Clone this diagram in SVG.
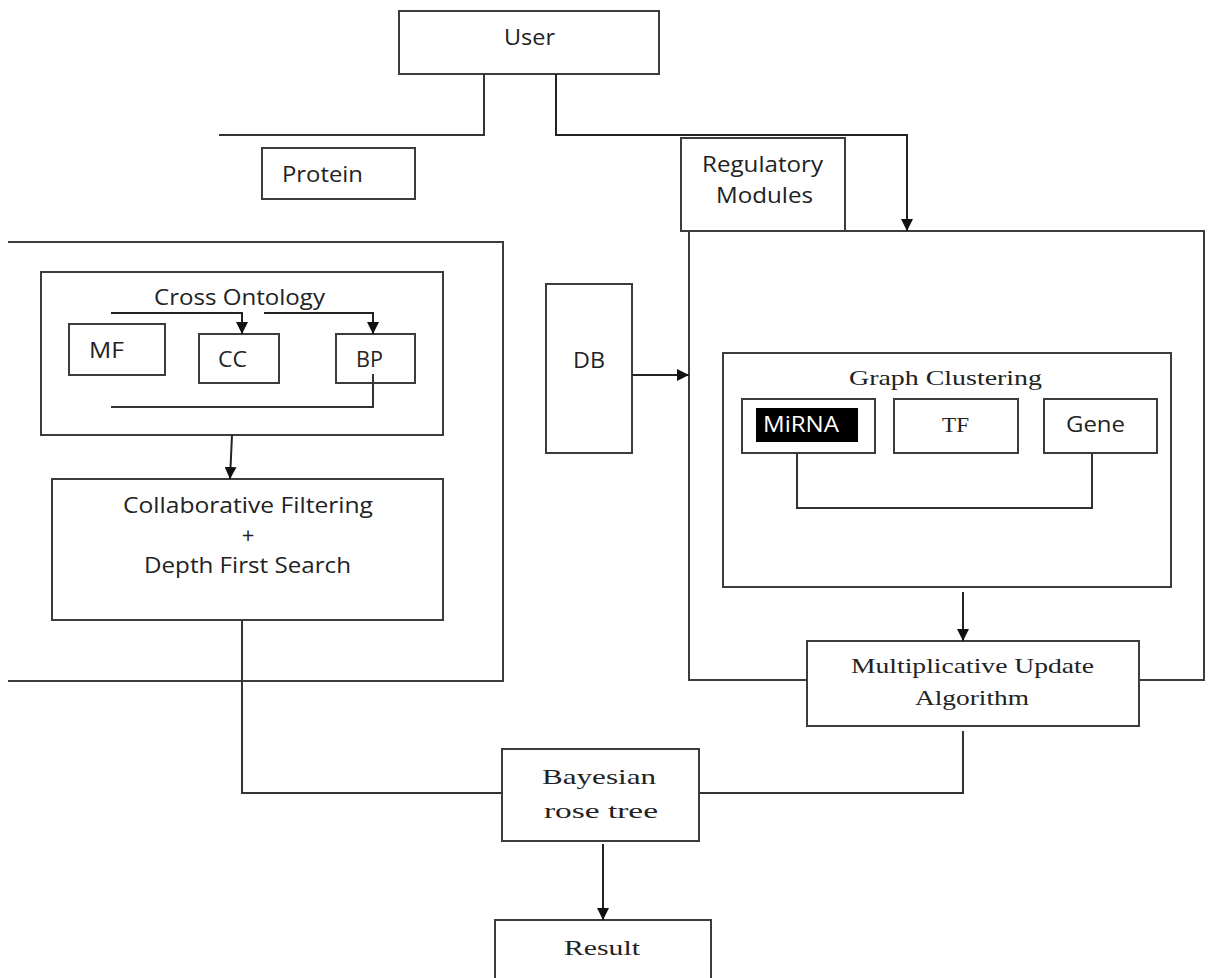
<svg xmlns="http://www.w3.org/2000/svg" width="1211" height="978" viewBox="0 0 1211 978">
<defs>
<style>
.box{fill:#fff;stroke:#3c3c3c;stroke-width:2}
.cont{fill:none;stroke:#3c3c3c;stroke-width:2}
.ln{fill:none;stroke:#333;stroke-width:2}
.arr{fill:none;stroke:#222;stroke-width:2;marker-end:url(#ah)}
.s{font-family:"Open Sans","Liberation Sans",sans-serif;font-size:22px;fill:#222}
.r{font-family:"Liberation Serif","Times New Roman",serif;font-size:22px;fill:#222}
</style>
<marker id="ah" markerUnits="userSpaceOnUse" markerWidth="12" markerHeight="12" refX="12" refY="6" orient="auto">
<path d="M0,0 L12,6 L0,12 z" fill="#111"/>
</marker>
</defs>
<rect width="1211" height="978" fill="#fff"/>

<g id="containers">
<path class="cont" d="M8,242 H503 V681 H8"/>
<rect id="regulatory-container" class="cont" x="689" y="231" width="515" height="449"/>
</g>

<g id="user"><rect class="box" x="399" y="11" width="260" height="63"/><text class="s" x="504" y="45" textLength="51" lengthAdjust="spacingAndGlyphs">User</text></g>
<g id="protein"><rect class="box" x="262" y="148" width="153" height="51"/><text class="s" x="282" y="182" textLength="81" lengthAdjust="spacingAndGlyphs">Protein</text></g>
<g id="regulatory-modules"><rect class="box" x="681" y="138" width="164" height="93"/><text class="s" x="702" y="172" textLength="121" lengthAdjust="spacingAndGlyphs">Regulatory</text><text class="s" x="716" y="203" textLength="97" lengthAdjust="spacingAndGlyphs">Modules</text></g>

<g id="cross-ontology"><rect class="box" x="41" y="272" width="402" height="163"/><text class="s" x="154" y="305" textLength="171" lengthAdjust="spacingAndGlyphs">Cross Ontology</text></g>
<g id="mf"><rect class="box" x="69" y="324" width="96" height="51"/><text class="s" x="89" y="358" textLength="35" lengthAdjust="spacingAndGlyphs">MF</text></g>
<g id="cc"><rect class="box" x="199" y="334" width="80" height="49"/><text class="s" x="218" y="367" textLength="29" lengthAdjust="spacingAndGlyphs">CC</text></g>
<g id="bp"><rect class="box" x="336" y="334" width="79" height="49"/><text class="s" x="356" y="367" textLength="27" lengthAdjust="spacingAndGlyphs">BP</text></g>

<g id="collaborative-filtering"><rect class="box" x="52" y="479" width="391" height="141"/>
<text class="s" x="123" y="513" textLength="250" lengthAdjust="spacingAndGlyphs">Collaborative Filtering</text>
<text class="s" x="248" y="543" text-anchor="middle">+</text>
<text class="s" x="144" y="573" textLength="207" lengthAdjust="spacingAndGlyphs">Depth First Search</text></g>

<g id="db"><rect class="box" x="546" y="284" width="86" height="169"/><text class="s" x="573" y="368" textLength="32" lengthAdjust="spacingAndGlyphs">DB</text></g>

<g id="graph-clustering"><rect class="box" x="723" y="353" width="448" height="234"/><text class="r" x="849" y="385" font-size="23" textLength="193" lengthAdjust="spacingAndGlyphs">Graph Clustering</text></g>
<g id="mirna"><rect class="box" x="742" y="399" width="133" height="54"/><rect x="756" y="408" width="102" height="34" fill="#000"/><text class="s" x="763" y="432" style="fill:#fff" textLength="76" lengthAdjust="spacingAndGlyphs">MiRNA</text></g>
<g id="tf"><rect class="box" x="894" y="399" width="124" height="54"/><text class="r" x="942" y="432" font-size="23" textLength="27" lengthAdjust="spacingAndGlyphs">TF</text></g>
<g id="gene"><rect class="box" x="1044" y="399" width="113" height="54"/><text class="s" x="1066" y="432" textLength="59" lengthAdjust="spacingAndGlyphs">Gene</text></g>

<g id="multiplicative-update"><rect class="box" x="807" y="641" width="332" height="85"/>
<text class="r" x="851" y="673" font-size="23" textLength="243" lengthAdjust="spacingAndGlyphs">Multiplicative Update</text>
<text class="r" x="915" y="705" font-size="23" textLength="114" lengthAdjust="spacingAndGlyphs">Algorithm</text></g>

<g id="bayesian-rose-tree"><rect class="box" x="502" y="749" width="197" height="92"/>
<text class="r" x="542" y="784" font-size="26" textLength="114" lengthAdjust="spacingAndGlyphs">Bayesian</text>
<text class="r" x="544" y="818" font-size="26" textLength="114" lengthAdjust="spacingAndGlyphs">rose tree</text></g>

<g id="result"><rect class="box" x="495" y="920" width="216" height="70"/><text class="r" x="564" y="955" font-size="25" textLength="76" lengthAdjust="spacingAndGlyphs">Result</text></g>

<g id="connectors">
<path class="ln" d="M484,74 V135 H219"/>
<path class="arr" d="M556,74 V135 H907 V231"/>
<path class="arr" d="M111,313 H242 V334"/>
<path class="arr" d="M264,313 H373 V334"/>
<path class="ln" d="M373,374 V407 H111"/>
<path class="arr" d="M232,435 L230,479"/>
<path class="ln" d="M242,620 V793 H502"/>
<path class="arr" d="M632,375 H689"/>
<path class="ln" d="M797,453 V508 H1092 V453"/>
<path class="arr" d="M963,592 V641"/>
<path class="ln" d="M963,731 V793 H699"/>
<path class="arr" d="M603,844 V920"/>
</g>
</svg>
